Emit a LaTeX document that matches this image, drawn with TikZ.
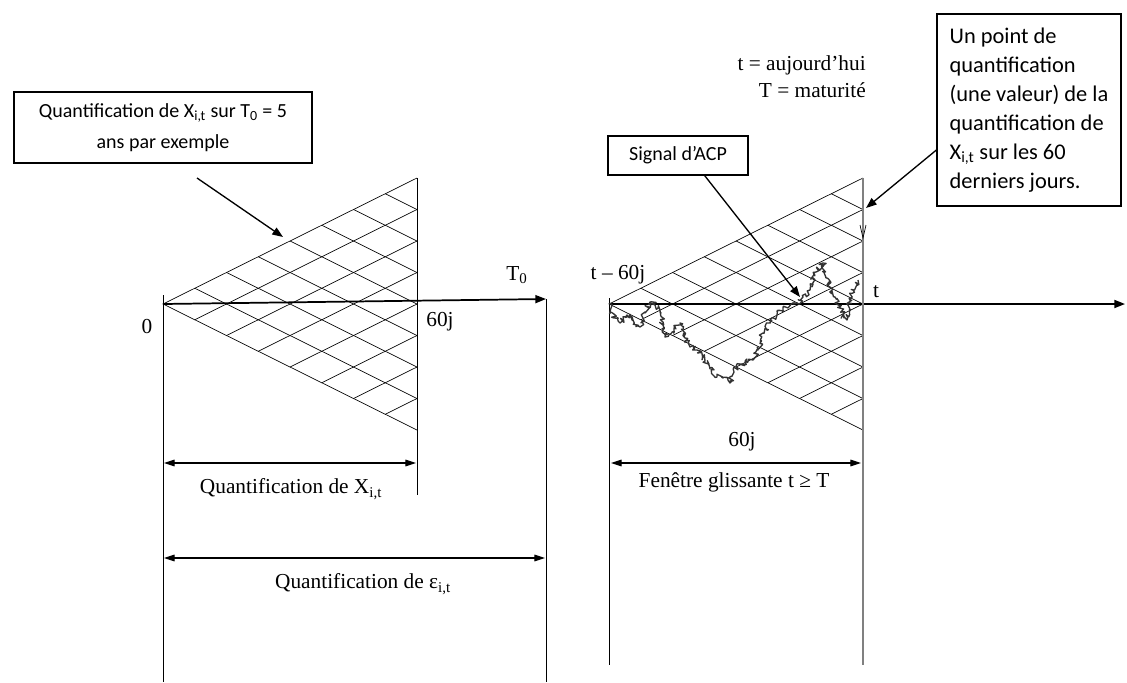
\documentclass[tikz,border=0pt]{standalone}
\usepackage{fontspec}
\setmainfont{Liberation Serif}
\newfontfamily\calfont{Carlito}
\usetikzlibrary{arrows.meta,calc,decorations.pathmorphing}

\tikzset{
  lattice/.style={line width=0.5pt},
  axisline/.style={line width=1.3pt, -{Triangle[length=8pt,width=6pt]}},
  dimline/.style={line width=0.8pt, {Triangle[length=8pt,width=5pt]}-{Triangle[length=8pt,width=5pt]}},
  pointer/.style={line width=1pt, -{Triangle[length=8pt,width=6pt]}},
  callout/.style={draw, line width=0.9pt, inner sep=0pt},
  lbl/.style={font=\fontsize{16}{19}\selectfont, inner sep=0pt}
}

\begin{document}
\begin{tikzpicture}[x=0.75pt, y=-0.75pt]
\useasboundingbox (0,0) rectangle (1127,682);

% Binomial lattices (left: calibration, right: sliding window)
\foreach \ox/\nm in {163/L, 609/R} {
  \coordinate (apex\nm) at (\ox,304);
  \coordinate (top\nm) at (\ox+254,178);
  \coordinate (bot\nm) at (\ox+254,430);
  \draw[lattice] (top\nm) -- (apex\nm) -- (bot\nm);
  \foreach \k in {1,...,7} {
    \draw[lattice] ($(apex\nm)!\k/8!(top\nm)$) -- ++({(8-\k)*254/8},{(8-\k)*126/8});
    \draw[lattice] ($(apex\nm)!\k/8!(bot\nm)$) -- ++({(8-\k)*254/8},{-(8-\k)*126/8});
  }
}

% Left diagram
\coordinate (axisL) at (546,299);
\draw[axisline] (apexL) -- (axisL);
\draw[line width=0.6pt] (163,295) -- (163,682);
\draw[line width=0.6pt] (topL) -- (417,495);
\draw[line width=0.6pt] (axisL) -- (546,682);
\node[lbl] (zeroL) at (147,327) {0};
\node[lbl] (sixtyL) at (440,322) {60j};
\node[lbl] (tzero) at (517,275) {T\textsubscript{0}};

\coordinate (dimXa) at (164,463);
\coordinate (dimXb) at (416,463);
\draw[dimline] (dimXa) -- (dimXb);
\node[lbl] (quantX) at (291,489) {Quantification de X\textsubscript{i,t}};
\coordinate (dimEa) at (164,558);
\coordinate (dimEb) at (545,558);
\draw[dimline] (dimEa) -- (dimEb);
\node[lbl] (quantE) at (363,584) {Quantification de ε\textsubscript{i,t}};

\node[callout, align=center, minimum width=223.5pt, minimum height=53.25pt,
  font=\calfont\fontsize{15}{23.25}\selectfont] (qbox) at (163,127.5)
  {Quantification de X\textsubscript{i,t} sur T\textsubscript{0} = 5\\ans par exemple};
\coordinate (qfrom) at (197,178);
\coordinate (qto) at (283,237);
\draw[pointer] (qfrom) -- (qto);

% Right diagram
\coordinate (axisR) at (1125,304);
\draw[axisline] (apexR) -- (axisR);
\draw[line width=0.6pt] (609,298) -- (609,665);
\draw[line width=1pt, gray] (topR) -- (863,665);
\draw[lattice] (860,225) -- (863,238) -- (866,225);
\node[lbl] (tmin) at (618,275) {t – 60j};
\node[lbl] (tnow) at (876,292) {t};
\node[lbl] (sixtyR) at (742,442) {60j};
\coordinate (dimRa) at (611,463);
\coordinate (dimRb) at (861,463);
\draw[dimline] (dimRa) -- (dimRb);
\node[lbl] (window) at (734,482) {Fenêtre glissante t ≥ T};
\node[lbl, anchor=east] (legt) at (866,65) {t = aujourd’hui};
\node[lbl, anchor=east] (legT) at (866,90) {T = maturité};

% simulated path
\pgfmathsetseed{12}
\draw[gray!40!black, line width=1pt, line join=round, decorate,
  decoration={random steps, segment length=1.2pt, amplitude=2.2pt}]
  (apexR) -- (614,318) -- (620,323) -- (627,315) -- (633,320) -- (640,327)
  -- (645,312) -- (650,302) -- (655,305) -- (660,310) -- (663,325) -- (665,337)
  -- (672,332) -- (680,323) -- (685,338) -- (690,347) -- (697,350) -- (703,357)
  -- (710,368) -- (717,377) -- (723,378) -- (730,383) -- (734,372) -- (737,367)
  -- (745,362) -- (753,360) -- (758,350) -- (763,333) -- (770,322) -- (777,315)
  -- (783,307) -- (790,305) -- (797,303) -- (803,297) -- (810,290) -- (816,272)
  -- (823,263) -- (827,278) -- (830,287) -- (835,297) -- (840,307) -- (844,318)
  -- (847,320) -- (850,300) -- (853,290) -- (858,280);

\node[callout, minimum width=105pt, minimum height=29.25pt,
  font=\calfont\fontsize{15}{18}\selectfont] (acpbox) at (678,155.5) {Signal d’ACP};
\coordinate (acpto) at (800,297);
\draw[pointer] ([xshift=20pt]acpbox.south) -- (acpto);

\node[callout, align=left, minimum width=138pt, minimum height=144pt,
  font=\calfont\fontsize{16.8}{21.75}\selectfont] (ptbox) at (1029,110)
  {Un point de\\quantification\\(une valeur) de la\\quantification de\\X\textsubscript{i,t} sur les 60\\derniers jours.};
\coordinate (ptto) at (866,208);
\draw[pointer] ([yshift=-30pt]ptbox.west) -- (ptto);
\end{tikzpicture}
\end{document}
